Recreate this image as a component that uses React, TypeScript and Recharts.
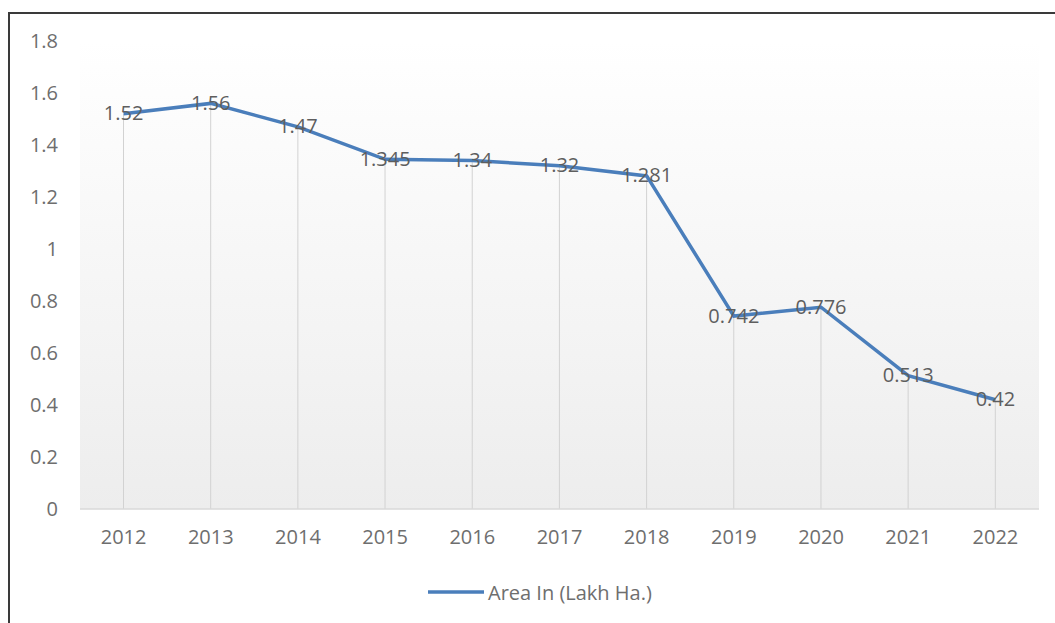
import React from "react";
import { ComposedChart, Line, Bar, XAxis, YAxis, CartesianGrid, LabelList } from "recharts";

const years = ["2012", "2013", "2014", "2015", "2016", "2017", "2018", "2019", "2020", "2021", "2022"];
const areaValues = [1.52, 1.56, 1.47, 1.345, 1.34, 1.32, 1.281, 0.742, 0.776, 0.513, 0.42];
const yTicks = [0, 0.2, 0.4, 0.6, 0.8, 1, 1.2, 1.4, 1.6, 1.8];
const seriesName = "Area In (Lakh Ha.)";

const data = years.map((y, i) => ({ year: y, area: areaValues[i] }));

const FONT = "'Open Sans', sans-serif";
const LINE_COLOR = "#4a7ebb";

const DataLabel = (props: any) => {
  const { x, y, width, value } = props;
  const cx = width ? x + width / 2 : x;
  return (
    <text
      x={cx}
      y={y - 1}
      textAnchor="middle"
      dominantBaseline="central"
      fontFamily={FONT}
      fontSize={20}
      fill="#5e5e5e"
    >
      {String(value)}
    </text>
  );
};

export default function App() {
  return (
    <div
      style={{
        position: "absolute",
        left: 8,
        top: 12,
        width: 1045,
        height: 609,
        borderTop: "2px solid #3a3a3a",
        borderLeft: "2px solid #3a3a3a",
        background: "#ffffff",
      }}
    >
      <svg width={0} height={0} style={{ position: "absolute" }}>
        <defs>
          <linearGradient id="plotBg" x1="0" y1="0" x2="0" y2="1">
            <stop offset="0%" stopColor="#ffffff" />
            <stop offset="100%" stopColor="#ededed" />
          </linearGradient>
        </defs>
      </svg>
      <ComposedChart
        width={1045}
        height={609}
        data={data}
        margin={{ top: 27, right: 16, bottom: 84, left: 10 }}
      >
        <CartesianGrid horizontal={false} vertical={false} fill="url(#plotBg)" stroke="none" />
        <XAxis
          dataKey="year"
          axisLine={{ stroke: "#d9d9d9", strokeWidth: 1.5 }}
          tickLine={false}
          tickSize={0}
          tickMargin={21}
          tick={{ fill: "#6e6e6e", fontSize: 20, fontFamily: FONT }}
          interval={0}
        />
        <YAxis
          domain={[0, 1.8]}
          ticks={yTicks}
          axisLine={false}
          tickLine={false}
          tickSize={0}
          tickMargin={22}
          width={60}
          tick={{ fill: "#6e6e6e", fontSize: 20, fontFamily: FONT }}
        />
        <Bar dataKey="area" barSize={1} fill="#d2d2d2" isAnimationActive={false} />
        <Line
          type="linear"
          dataKey="area"
          name={seriesName}
          stroke={LINE_COLOR}
          strokeWidth={3.5}
          dot={false}
          isAnimationActive={false}
        >
          <LabelList dataKey="area" content={DataLabel} />
        </Line>
      </ComposedChart>
      <div
        style={{
          position: "absolute",
          left: 418,
          top: 566,
          height: 24,
          display: "flex",
          alignItems: "center",
          fontFamily: FONT,
          fontSize: 20,
          color: "#6e6e6e",
          whiteSpace: "nowrap",
        }}
      >
        <svg width={56} height={8} style={{ marginRight: 4 }}>
          <line x1={0} y1={4} x2={56} y2={4} stroke={LINE_COLOR} strokeWidth={3.5} />
        </svg>
        <span>{seriesName}</span>
      </div>
    </div>
  );
}
